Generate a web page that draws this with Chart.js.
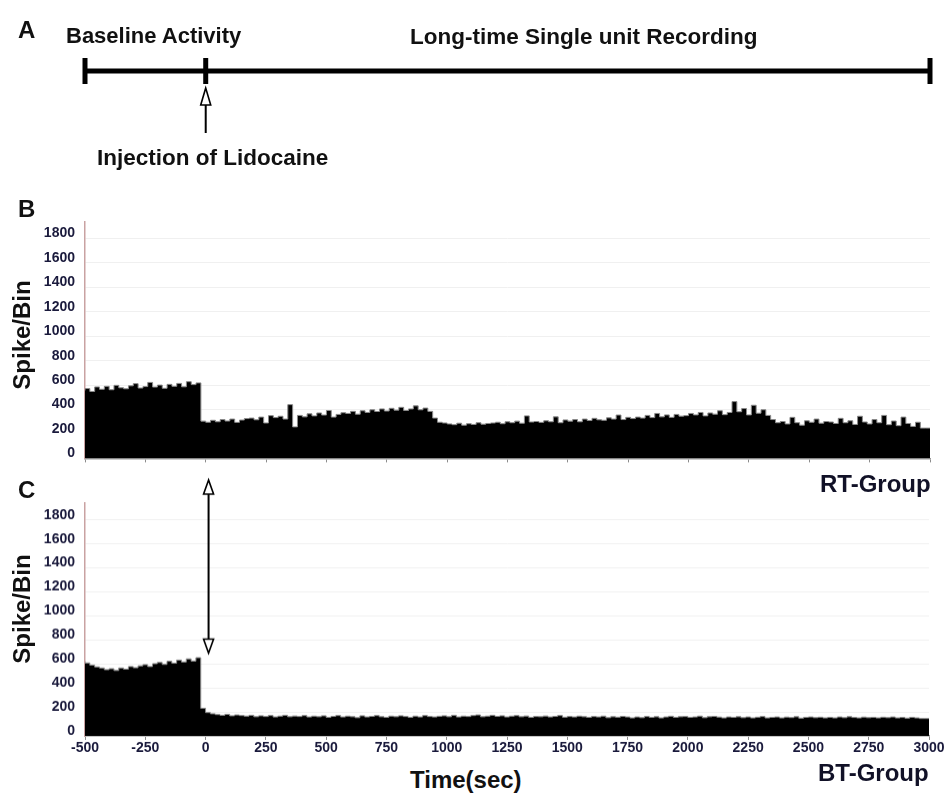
<!DOCTYPE html>
<html>
<head>
<meta charset="utf-8">
<script src="https://cdn.jsdelivr.net/npm/chart.js@4.4.1/dist/chart.umd.min.js"></script>
<style>
  html, body { margin: 0; padding: 0; background: #fff; }
  #page { position: relative; width: 946px; height: 798px; overflow: hidden; }
  .box { position: absolute; left: 0; width: 946px; }
  .lbl { position: absolute; font-family: "Liberation Sans", Arial, sans-serif; font-weight: bold; line-height: 1; white-space: nowrap; color: #111; }
  .ylab { transform: translate(-50%, -50%) rotate(-90deg); }
</style>
</head>
<body>
<div id="page">
  <div class="box" style="top:41px;height:110px"><canvas id="timelineChart"></canvas></div>
  <div class="box" style="top:202.6px;height:273.8px"><canvas id="rtChart"></canvas></div>
  <div class="box" style="top:475px;height:288.8px"><canvas id="btChart"></canvas></div>

  <div class="lbl" style="left:18px;top:18px;font-size:24px">A</div>
  <div class="lbl" style="left:66px;top:25px;font-size:22px">Baseline Activity</div>
  <div class="lbl" style="left:410px;top:26px;font-size:22.5px">Long-time Single unit Recording</div>
  <div class="lbl" style="left:97px;top:147px;font-size:22.5px">Injection of Lidocaine</div>

  <div class="lbl" style="left:18px;top:197px;font-size:24px">B</div>
  <div class="lbl ylab" style="left:22px;top:335px;font-size:24px">Spike/Bin</div>
  <div class="lbl" style="left:820px;top:472px;font-size:24px;color:#111127">RT-Group</div>

  <div class="lbl" style="left:18px;top:478px;font-size:24px">C</div>
  <div class="lbl ylab" style="left:22px;top:609px;font-size:24px">Spike/Bin</div>
  <div class="lbl" style="left:410px;top:768px;font-size:24px">Time(sec)</div>
  <div class="lbl" style="left:818px;top:761px;font-size:24px;color:#111127">BT-Group</div>
</div>
<script>
// time axis (sec)
const startTime = -500;
const endTime = 3000;
const injectionTime = 0;
const binWidth = 20;
const tickStep = 250;
const timelineMarks = [-500, 0, 3000];

// spikes per 20 s bin, RT-Group (panel B)
const rtBaseline = [556, 572, 548, 585, 566, 590, 562, 598, 578, 570, 594, 612, 576, 588, 622, 584, 600, 574, 606, 590, 614, 586, 628, 604, 618];
const rtAfter = [
  305, 296, 312, 300, 318, 306, 322, 295, 314, 326,
  330, 316, 338, 290, 350, 334, 345, 322, 440, 258,
  352, 340, 365, 348, 372, 355, 392, 338, 360, 374,
  368, 385, 362, 390, 376, 398, 384, 405, 388, 410,
  395, 418, 392, 405, 430, 398, 412, 385, 330, 296,
  290, 282, 276, 288, 272, 284, 278, 292, 280, 286,
  290, 296, 284, 300, 292, 305, 288, 348, 298, 302,
  295, 308, 300, 340, 292, 315, 305, 318, 300, 322,
  310, 328, 316, 312, 332, 322, 355, 318, 336, 326,
  338, 330, 352, 334, 368, 340, 356, 336, 360, 346,
  350, 368, 356, 376, 348, 372, 362, 390, 358, 376,
  465, 382, 408, 356, 435, 370, 398, 352, 318, 292,
  302, 282, 336, 292, 272, 308, 296, 322, 288, 302,
  298, 286, 328, 292, 308, 278, 345, 298, 282, 318,
  292, 352, 276, 306, 268, 338, 286, 262, 296, 248
];

// spikes per 20 s bin, BT-Group (panel C)
const btBaseline = [622, 608, 590, 575, 566, 552, 560, 545, 566, 556, 578, 568, 584, 594, 578, 602, 612, 596, 622, 606, 632, 616, 642, 624, 652];
const btAfter = [
  230, 195, 185, 178, 172, 180, 168, 175, 170, 165,
  172, 160, 168, 162, 170, 158, 165, 172, 160, 166,
  162, 170, 158, 165, 160, 168, 155, 163, 170, 158,
  165, 160, 152, 168, 158, 163, 170, 160, 155, 165,
  160, 168, 162, 155, 165, 158, 170, 162, 158, 164,
  168, 160, 172, 158, 165, 162, 170, 175, 160, 165,
  172, 163, 168, 158, 165, 170, 160, 166, 155, 162,
  160, 166, 158, 163, 170, 156, 162, 158, 165, 160,
  155, 162, 158, 165, 152, 160, 156, 163, 158, 150,
  158, 152, 162, 155, 160, 150, 158, 164, 155, 160,
  162, 155, 158, 165, 152, 160, 163, 157, 150, 158,
  155, 160, 152, 158, 150, 156, 162, 150, 155, 158,
  150, 157, 153, 160, 148, 155, 158, 152, 156, 150,
  155, 150, 158, 152, 160, 154, 150, 157, 152, 155,
  150, 156, 152, 158, 150, 154, 148, 155, 150, 145
];

const yMax = 1940;
const yStep = 200;
const arrowTipValue = 690;

const fontFamily = "'Liberation Sans', Arial, sans-serif";
const tickColor = "#1a1a3c";

function toPoints(baseline, after) {
  const values = baseline.concat(after);
  const pts = values.map((v, i) => ({ x: startTime + i * binWidth, y: v }));
  pts.push({ x: endTime, y: values[values.length - 1] });
  return pts;
}

function hollowHead(ctx, x, tipY, baseY, halfW) {
  ctx.beginPath();
  ctx.moveTo(x, tipY);
  ctx.lineTo(x - halfW, baseY);
  ctx.lineTo(x + halfW, baseY);
  ctx.closePath();
  ctx.fillStyle = "#fff";
  ctx.fill();
  ctx.stroke();
}

// upward arrow under the injection mark in panel A
const injectionArrow = {
  id: "injectionArrow",
  afterDatasetsDraw(chart) {
    const { ctx, scales: { x, y } } = chart;
    const px = x.getPixelForValue(injectionTime);
    const tip = y.getPixelForValue(-0.85);
    const base = y.getPixelForValue(-1.7);
    const end = y.getPixelForValue(-3.1);
    ctx.save();
    ctx.strokeStyle = "#000";
    ctx.lineWidth = 2;
    ctx.beginPath();
    ctx.moveTo(px, base);
    ctx.lineTo(px, end);
    ctx.stroke();
    ctx.lineWidth = 1.6;
    hollowHead(ctx, px, tip, base, 5);
    ctx.restore();
  },
};

// double-headed arrow between panels B and C
const doubleArrow = {
  id: "doubleArrow",
  afterDraw(chart) {
    const { ctx, chartArea, scales: { x, y } } = chart;
    const px = x.getPixelForValue(injectionTime) + 3;
    const top = chartArea.top - 23;
    const bottom = y.getPixelForValue(arrowTipValue);
    ctx.save();
    ctx.strokeStyle = "#000";
    ctx.lineWidth = 2;
    ctx.beginPath();
    ctx.moveTo(px, top + 13);
    ctx.lineTo(px, bottom - 13);
    ctx.stroke();
    ctx.lineWidth = 1.6;
    hollowHead(ctx, px, top, top + 14, 5);
    hollowHead(ctx, px, bottom, bottom - 14, 5);
    ctx.restore();
  },
};

const timelineCtx = document.getElementById("timelineChart").getContext("2d");
const timelineChart = new Chart(timelineCtx, {
  type: "line",
  data: {
    datasets: [
      {
        data: [{ x: startTime, y: 0 }, { x: endTime, y: 0 }],
        borderColor: "#000",
        borderWidth: 5,
        pointRadius: 0,
        clip: false,
      },
    ].concat(
      timelineMarks.map((t) => ({
        data: [{ x: t, y: -0.65 }, { x: t, y: 0.65 }],
        borderColor: "#000",
        borderWidth: 5,
        pointRadius: 0,
        clip: false,
      }))
    ),
  },
  options: {
    responsive: true,
    maintainAspectRatio: false,
    animation: false,
    layout: { padding: { left: 85, right: 16, top: 0, bottom: 0 } },
    plugins: { legend: { display: false }, tooltip: { enabled: false } },
    scales: {
      x: { type: "linear", min: startTime, max: endTime, display: false },
      y: { min: -4, max: 1.5, display: false },
    },
  },
  plugins: [injectionArrow],
});

function histogramOptions(showTimeLabels, padding) {
  return {
    responsive: true,
    maintainAspectRatio: false,
    animation: false,
    layout: { padding: padding },
    plugins: { legend: { display: false }, tooltip: { enabled: false } },
    scales: {
      x: {
        type: "linear",
        min: startTime,
        max: endTime,
        ticks: {
          stepSize: tickStep,
          display: showTimeLabels,
          autoSkip: false,
          maxRotation: 0,
          padding: 0,
          color: tickColor,
          font: { family: fontFamily, size: 14, weight: "bold" },
          callback: (v) => String(v),
        },
        grid: { drawOnChartArea: false, tickLength: 4, color: "#8c8c8c" },
        border: { color: "#9a9a9a", width: 1.5 },
      },
      y: {
        min: 0,
        max: yMax,
        ticks: {
          stepSize: yStep,
          includeBounds: false,
          labelOffset: -5,
          padding: 10,
          color: tickColor,
          font: { family: fontFamily, size: 14, weight: "bold" },
          callback: (v) => String(v),
        },
        grid: { color: "#f0f0f0", drawTicks: false },
        border: { color: "#c9a2a2", width: 1.5 },
        afterFit: (scale) => {
          scale.width = 85;
        },
      },
    },
  };
}

function histogramDataset(baseline, after) {
  return {
    data: toPoints(baseline, after),
    stepped: "after",
    fill: "origin",
    backgroundColor: "#000",
    borderColor: "#8a8a8a",
    borderWidth: 1,
    pointRadius: 0,
  };
}

const rtCtx = document.getElementById("rtChart").getContext("2d");
const rtChart = new Chart(rtCtx, {
  type: "line",
  data: { datasets: [histogramDataset(rtBaseline, rtAfter)] },
  options: histogramOptions(false, { left: 0, right: 16, top: 12, bottom: 6 }),
});

const btCtx = document.getElementById("btChart").getContext("2d");
const btChart = new Chart(btCtx, {
  type: "line",
  data: { datasets: [histogramDataset(btBaseline, btAfter)] },
  options: histogramOptions(true, { left: 0, right: 17, top: 28, bottom: 8 }),
  plugins: [doubleArrow],
});
</script>
</body>
</html>
